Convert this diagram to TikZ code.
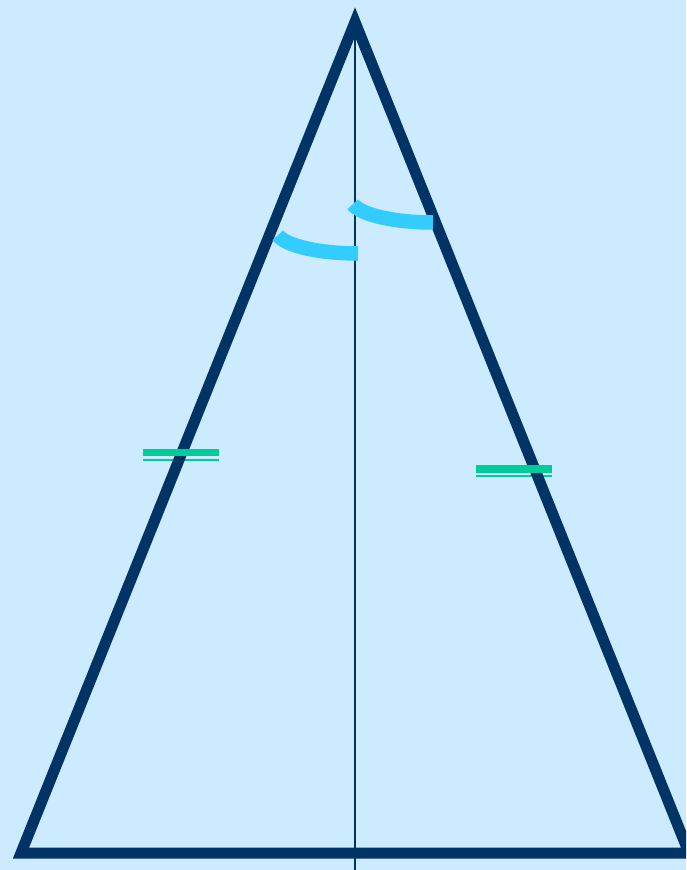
\documentclass[tikz,border=0pt]{standalone}
\usepackage{tikz}
\definecolor{bgblue}{HTML}{CCEBFF}
\definecolor{navy}{HTML}{003366}
\definecolor{cyanarc}{HTML}{33CCFF}
\definecolor{tickgreen}{HTML}{00CC99}
\tikzset{
  side/.style={draw=navy, line width=11pt, line join=miter},
  axisline/.style={draw=navy, line width=2pt},
  anglemark/.style={draw=cyanarc, line width=14.5pt, line cap=butt},
  tickthick/.style={draw=tickgreen, line width=7.5pt, line cap=butt},
  tickthin/.style={draw=tickgreen, line width=2pt, line cap=butt}
}
\begin{document}
\begin{tikzpicture}[x=1pt,y=-1pt]
  \path[fill=bgblue, use as bounding box] (0,0) rectangle (686,870);
  \clip (0,0) rectangle (686,870);
  \coordinate (A) at (355,22);
  \coordinate (B) at (21,853);
  \coordinate (C) at (689,853);
  \coordinate (F) at (355,870);
  % centres of the two angle marks
  \coordinate (M1) at (358,230.5);
  \coordinate (M2) at (433,199.5);
  % thin tick lines (behind the sides)
  \coordinate (t1a) at (143,460);   \coordinate (t1b) at (219,460);
  \coordinate (t2a) at (476,476);   \coordinate (t2b) at (552,476);
  \draw[tickthin] (t1a) -- (t1b);
  \draw[tickthin] (t2a) -- (t2b);
  % triangle and axis
  \draw[side] (A) -- (B) -- (C) -- cycle;
  \draw[axisline] (A) -- (F);
  % thick tick bars
  \coordinate (T1a) at (143,452.5); \coordinate (T1b) at (219,452.5);
  \coordinate (T2a) at (476,469);   \coordinate (T2b) at (552,469);
  \draw[tickthick] (T1a) -- (T1b);
  \draw[tickthick] (T2a) -- (T2b);
  % angle marks
  \draw[anglemark] (M1) ++(168:82 and 23) arc[start angle=168, end angle=90, x radius=82, y radius=23];
  \draw[anglemark] (M2) ++(168:82 and 23) arc[start angle=168, end angle=90, x radius=82, y radius=23];
\end{tikzpicture}
\end{document}
